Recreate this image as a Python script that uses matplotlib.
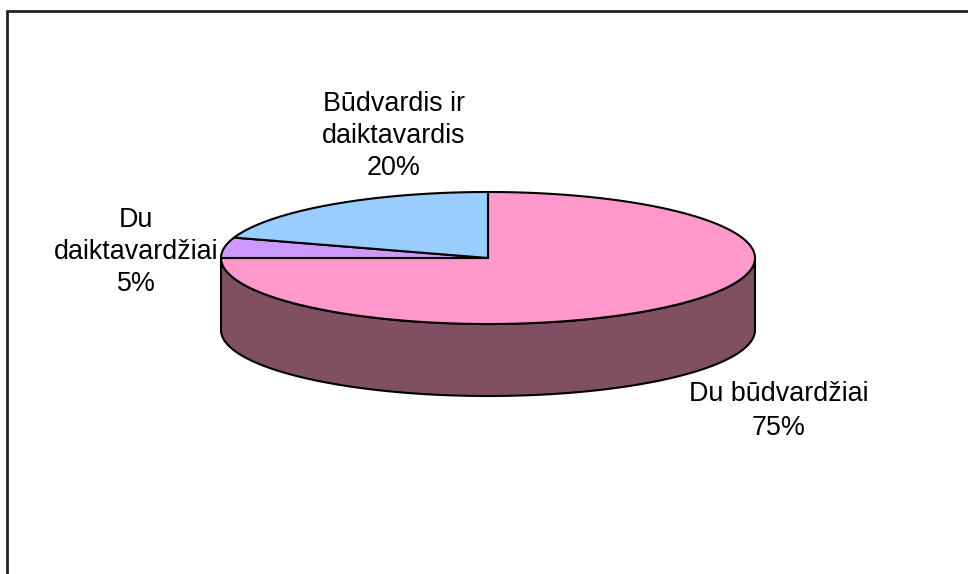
import numpy as np
import matplotlib.pyplot as plt
from matplotlib.patches import Polygon

plt.rcParams['font.family'] = ['Liberation Sans', 'DejaVu Sans']

# data
labels = ["Du būdvardžiai", "Du\ndaiktavardžiai", "Būdvardis ir\ndaiktavardis"]
values = [75, 5, 20]
top_colors = ["#FF99CC", "#CC99FF", "#99CCFF"]
side_colors = ["#804F62", "#6A4F88", "#4F6A88"]

# pie geometry (pixels)
cx, cy = 488, 258
a, b = 267, 66
depth = 72

fig = plt.figure(figsize=(9.68, 5.74), dpi=100)
ax = fig.add_axes([0, 0, 1, 1])
ax.set_xlim(0, 968)
ax.set_ylim(574, 0)
ax.axis("off")

# chart frame (runs off the right and bottom)
ax.plot([7, 7, 975], [590, 11, 11], color="#222222", lw=2, solid_joinstyle="miter")


def ell(t, dy=0):
    r = np.radians(t)
    return cx + a * np.cos(r), cy - b * np.sin(r) + dy


# angles: start at 12 o'clock, go clockwise
total = sum(values)
bounds = []
start = 90.0
for v in values:
    end = start - 360.0 * v / total
    bounds.append((end, start))
    start = end

# side walls (front half only: sin < 0)
for (lo, hi), col in zip(bounds, side_colors):
    for f_lo, f_hi in [(-540, -360), (-180, 0), (180, 360)]:
        s, e = max(lo, f_lo), min(hi, f_hi)
        if s >= e:
            continue
        t = np.linspace(s, e, 120)
        x1, y1 = ell(t)
        x2, y2 = ell(t[::-1], depth)
        pts = np.column_stack([np.r_[x1, x2], np.r_[y1, y2]])
        ax.add_patch(Polygon(pts, closed=True, facecolor=col,
                             edgecolor="black", lw=1.5, joinstyle="round"))

# top faces
for (lo, hi), col in zip(bounds, top_colors):
    t = np.linspace(lo, hi, 200)
    x, y = ell(t)
    pts = np.column_stack([np.r_[cx, x], np.r_[cy, y]])
    ax.add_patch(Polygon(pts, closed=True, facecolor=col,
                         edgecolor="black", lw=1.5, joinstyle="round"))

# labels
label_pos = [(779, 411), (136, 252), (394, 136)]
spacing = [1.38, 1.31, 1.31]
for lab, v, (lx, ly), ls in zip(labels, values, label_pos, spacing):
    pct = round(100 * v / total)
    ax.text(lx, ly, f"{lab}\n{pct}%", ha="center", va="center",
            fontsize=19.4, linespacing=ls, color="black")

fig.savefig("out.png", dpi=100)
